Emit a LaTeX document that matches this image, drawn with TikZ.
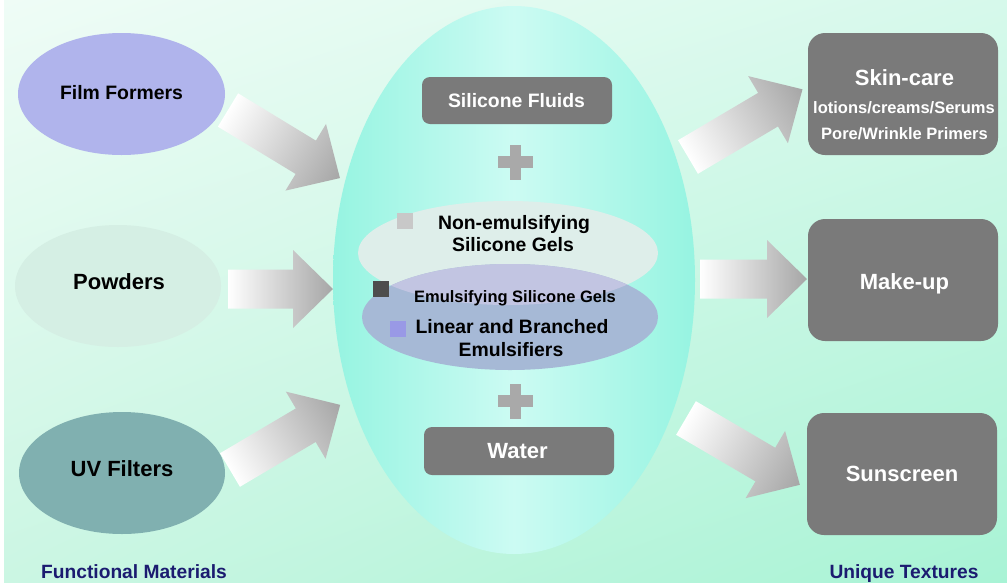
\documentclass[tikz,border=0pt]{standalone}
\usepackage{fontspec}
\setmainfont{Liberation Sans}
\usetikzlibrary{shapes.geometric,shadings}
\definecolor{boxgray}{HTML}{7A7A7A}
\definecolor{plusgray}{HTML}{A9A9A9}
\definecolor{arrowgray}{HTML}{A6A6A6}
\definecolor{navy}{HTML}{1B1B70}
\definecolor{filmc}{HTML}{B0B4EC}
\definecolor{powderc}{HTML}{D5EFE4}
\definecolor{uvc}{HTML}{80B0B0}
\definecolor{aqua}{HTML}{96F4E1}
\definecolor{aqualight}{HTML}{CCFBF3}
\definecolor{nonemulc}{HTML}{DEEEEA}
\definecolor{emulc}{HTML}{A6B9D6}
\definecolor{overlapc}{HTML}{C2C5E2}
\definecolor{bgul}{HTML}{EFFCF6}
\definecolor{bgur}{HTML}{D6F9EB}
\definecolor{bgll}{HTML}{CBF6E3}
\definecolor{bglr}{HTML}{A8F3D5}
\tikzset{
  blob/.style={ellipse, inner sep=0pt},
  graybox/.style={rectangle, fill=boxgray, inner sep=0pt},
  plusbar/.style={rectangle, fill=plusgray, inner sep=0pt},
  sq/.style={rectangle, inner sep=0pt, minimum size=16pt},
  big/.style={font=\bfseries\fontsize{22}{26}\selectfont, anchor=base, inner sep=0pt},
  mid/.style={font=\bfseries\fontsize{19.4}{22}\selectfont, anchor=base, inner sep=0pt},
  small/.style={font=\bfseries\fontsize{16.5}{19}\selectfont, anchor=base, inner sep=0pt},
  whitetext/.style={text=white},
  legend/.style={font=\bfseries\fontsize{19.2}{22}\selectfont, anchor=base, inner sep=0pt, text=navy}
}
% #1 tail coordinate, #2 angle (canvas, ccw), #3 length
\newcommand{\blockarrow}[3]{%
  \begin{scope}[transform canvas={shift={#1},rotate=#2}]
    \shade[left color=white, right color=arrowgray]
      (0,-19.5) -- (#3-40,-19.5) -- (#3-40,-39) -- (#3,0) -- (#3-40,39) -- (#3-40,19.5) -- (0,19.5) -- cycle;
  \end{scope}}
\begin{document}
\begin{tikzpicture}[x=1pt,y=-1pt]
\useasboundingbox (0,0) rectangle (1007,582);
\fill[white] (0,0) rectangle (1007,582);
\shade[upper left=bgul, upper right=bgur, lower left=bgll, lower right=bglr] (4,0) rectangle (1007,582);

% central ellipse
\node[blob, minimum width=362pt, minimum height=548pt, left color=aqua, right color=aqua, middle color=aqualight] (mix) at (514,280) {};

% left ellipses
\node[blob, fill=filmc, minimum width=207pt, minimum height=122pt] (film) at (121.5,94) {};
\node[blob, fill=powderc, minimum width=206pt, minimum height=122pt] (powder) at (118,286) {};
\node[blob, fill=uvc, minimum width=206pt, minimum height=122pt] (uv) at (122,473) {};
\node[mid] (tfilm) at (121.5,99) {Film Formers};
\node[big] (tpowder) at (119,289) {Powders};
\node[big] (tuv) at (122,476) {UV Filters};
\node[legend] (tfunc) at (134,578) {Functional Materials};

% arrow tail coordinates
\coordinate (a1) at (228,110);
\coordinate (a2) at (228,289);
\coordinate (a3) at (230,470);
\coordinate (a4) at (688,157);
\coordinate (a5) at (700,279);
\coordinate (a6) at (686,418);
\blockarrow{(a1)}{-31.3}{131}
\blockarrow{(a2)}{0}{105}
\blockarrow{(a3)}{30.6}{128}
\blockarrow{(a4)}{30.6}{133}
\blockarrow{(a5)}{0}{107}
\blockarrow{(a6)}{-30.4}{132}

% inner gels
\node[blob, fill=nonemulc, minimum width=300pt, minimum height=104pt] (nonemul) at (508,253) {};
\node[blob, fill=emulc, minimum width=296pt, minimum height=106pt] (emul) at (510,317) {};
\begin{scope}
  \clip (508,253) ellipse [x radius=150, y radius=52];
  \fill[overlapc] (510,317) ellipse [x radius=148, y radius=53];
\end{scope}
\node[sq, fill={rgb,255:red,200;green,200;blue,200}] (sq1) at (404.5,220.5) {};
\node[sq, fill={rgb,255:red,77;green,77;blue,77}] (sq2) at (380.5,288.5) {};
\node[sq, fill={rgb,255:red,153;green,153;blue,230}] (sq3) at (397.5,329) {};
\node[mid] (tne1) at (514,229) {Non-emulsifying};
\node[mid] (tne2) at (513,251) {Silicone Gels};
\node[small] (tem) at (515,302) {Emulsifying Silicone Gels};
\node[mid] (tlin1) at (512,333) {Linear and Branched};
\node[mid] (tlin2) at (511,356) {Emulsifiers};

% silicone fluids and water
\node[graybox, rounded corners=8pt, minimum width=190pt, minimum height=47pt] (fluids) at (517,100.5) {};
\node[mid, whitetext] (tfluids) at (516.5,107) {Silicone Fluids};
\node[plusbar, minimum width=35pt, minimum height=12pt] (p1h) at (515.5,162) {};
\node[plusbar, minimum width=11pt, minimum height=35pt] (p1v) at (515.5,162) {};
\node[plusbar, minimum width=35pt, minimum height=12pt] (p2h) at (515.5,401) {};
\node[plusbar, minimum width=11pt, minimum height=35pt] (p2v) at (515.5,401) {};
\node[graybox, rounded corners=8pt, minimum width=190pt, minimum height=48pt] (water) at (519,451) {};
\node[big, whitetext] (twater) at (517.5,458) {Water};

% right boxes
\node[graybox, rounded corners=17pt, minimum width=190pt, minimum height=122pt] (skin) at (903,94) {};
\node[big, whitetext] (tskin) at (904.5,85) {Skin-care};
\node[small, whitetext] (tskin2) at (904,113) {lotions/creams/Serums};
\node[small, whitetext] (tskin3) at (904.5,139) {Pore/Wrinkle Primers};
\node[graybox, rounded corners=17pt, minimum width=190pt, minimum height=122pt] (makeup) at (903,280) {};
\node[big, whitetext] (tmakeup) at (904.5,289) {Make-up};
\node[graybox, rounded corners=17pt, minimum width=190pt, minimum height=122pt] (sun) at (902,474) {};
\node[big, whitetext] (tsun) at (902,481) {Sunscreen};
\node[legend] (tunique) at (904,578) {Unique Textures};
\end{tikzpicture}
\end{document}
